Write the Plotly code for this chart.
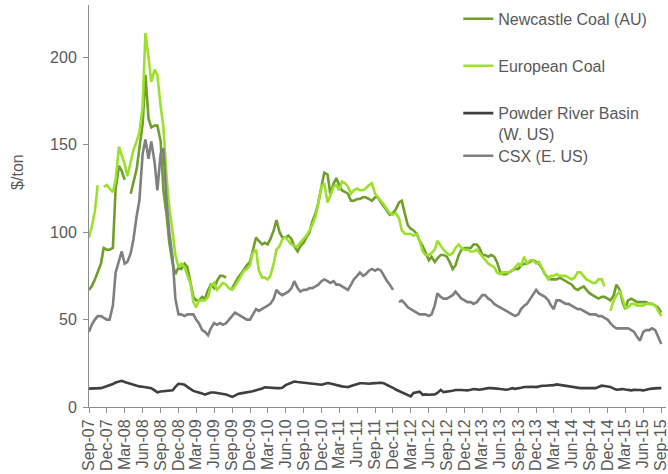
import pandas as pd
import plotly.graph_objects as go

# ---- data (semi-monthly readings, Sep-2007 .. Sep-2015) ----
dates = pd.date_range("2007-09-01", periods=193, freq="SMS")

newcastle = [67, 69, 73, 77, 82, 91, 90, 90, 91, 125, 138, 135, 130, None, 122, 128, 136, 148, 162, 190,
             165, 160, 161, 161, 152, 124, 110, 94, 82, 76, 80, 79, 82, 80, 70, 63, 61, 61, 63, 62,
             67, 70, 68, 72, 75, 75, 74, None, 68, 71, 74, 76, 79, 81, 83, 90, 97, 95, 93, 94,
             93, 96, 101, 107, 100, 97, 97, 98, 96, 92, 89, 92, 94, 97, 100, 106, 111, 117, 126, 134,
             133, 122, 128, 131, 127, 124, 123, 122, 118, 118, 119, 119, 120, 120, 119, 118, 120, 120, 117, 115,
             112, 110, 111, 113, 117, 118, 110, 104, 102, 101, 99, 95, 92, 88, 84, 86, 83, 85, 87, 87,
             86, 83, 79, 81, 87, 90, 91, 91, 91, 93, 93, 91, 87, 87, 86, 87, 86, 83, 77, 76,
             76, 77, 78, 79, 79, 81, 82, 82, 83, 84, 83, 82, 79, 76, 74, 73, 73, 73, 74, 73,
             72, 71, 70, 68, 67, 68, 69, 67, 65, 64, 63, 62, 63, 63, 62, 61, 64, 70, 67, 60,
             56, 61, 62, 61, 60, 60, 60, 60, 59, 59, 58, 57, 54]

european = [97, 103, 112, 127, None, 126, 127, 125, 123, 130, 149, 144, 139, 132, 140, 147, 152, 157, 172, 214,
            200, 186, 193, 190, 172, 160, 132, 114, 100, 87, 80, 82, 80, 76, 70, 60, 57, 61, 61, 61,
            63, 69, 71, 67, 69, 71, 70, 68, 67, 69, 72, 75, 78, 79, 81, 88, 90, 78, 74, 74,
            73, 75, 82, 90, 92, 96, 97, 95, 93, 92, 92, 94, 96, 98, 101, 104, 109, 118, 126, 128,
            117, 121, 126, 127, 124, 129, 128, 126, 122, 124, 125, 124, 124, 125, 127, 128, 122, 120, 118, 116,
            113, 111, 110, 111, 108, 101, 99, 99, 99, 98, 99, 95, 89, 87, 87, 88, 90, 95, 92, 90,
            88, 87, 88, 91, 93, 91, 90, 90, 89, 89, 90, 88, 86, 84, 82, 81, 80, 77, 76, 77,
            77, 77, 78, 80, 82, 81, 86, 82, 84, 84, 82, 83, 79, 76, 73, 75, 75, 76, 75, 75,
            75, 74, 73, 74, 77, 77, 75, 73, 72, 71, 71, 73, 73, 69, None, 55, 61, 64, 66, 62,
            57, 57, 59, 59, 58, 58, 58, 59, 59, 59, 58, 55, 52]

powder_river = [10.5, 10.5, 10.6, 10.7, 10.8, 11.3, 11.8, 12.4, 13.2, 14, 14.8, 15, 14.3, 13.8, 13.4, 12.5, 12, 11.8, 11.6, 11.4,
                11, 10.8, 9.5, 8.4, 8.9, 9, 9, 9.4, 9.6, 11.5, 13.3, 13.2, 12.7, 11.5, 10, 9.2, 8.7, 8.4, 7.8, 7.1,
                7.6, 8.3, 8.3, 8.1, 7.9, 7.6, 7.1, 6.5, 5.8, 6.5, 7.5, 7.8, 8.1, 8.3, 8.6, 9, 9.6, 9.9, 10.6, 11.3,
                11.1, 10.9, 10.8, 10.8, 10.8, 11, 12.5, 13.3, 14, 14.6, 14.3, 14.1, 13.9, 13.8, 13.5, 13.1, 12.7, 12.7, 12.7, 13.2,
                13.7, 13.4, 12.9, 12.5, 12, 11.8, 11.6, 11.4, 12, 12.6, 13.2, 13.6, 13.6, 13.4, 13.3, 13.5, 13.7, 14, 13.9, 13.6,
                12.8, 12, 11, 10, 9.1, 8.5, 7.8, 6.8, 6.1, 8, 8.5, 8.8, 7, 7.2, 7, 7, 7.2, 8, 9.8, 8.5,
                8.7, 9, 9.3, 9.7, 9.9, 9.7, 9.6, 9.5, 9.9, 10.3, 10.1, 9.9, 10.2, 10.6, 10.8, 10.8, 10.8, 10.5, 10.3, 10.1,
                9.9, 10.2, 10.8, 10.4, 10.5, 11, 11.4, 11.6, 11.8, 11.6, 11.4, 11.8, 12.2, 12.2, 12.2, 12.2, 12.5, 12.9, 12.6, 12.2,
                11.9, 11.5, 11.2, 11, 10.9, 10.8, 10.8, 10.8, 10.8, 10.8, 10.8, 11.4, 12.2, 12, 11.9, 11.5, 10.5, 9.9, 10.1, 10.3,
                10, 9.6, 9.5, 9.8, 9.9, 9.7, 9.5, 10, 10.3, 10.5, 10.8, 10.8, 10.8]

csx = [43, 47, 50, 52, 52, 51, 50, 50, 58, 77, 83, 89, 82, 83, 88, 96, 109, 118, 145, 153,
       142, 152, 140, 124, 145, 148, 118, 100, 85, 62, 53, 53, 52, 53, 53, 53, 50, 48, 44, 43,
       41, 45, 48, 47, 48, 47, 48, 50, 52, 54, 53, 52, 51, 50, 50, 53, 56, 55, 56, 57,
       58, 59, 62, 67, 65, 64, 65, 66, 68, 72, 68, 66, 67, 67, 68, 68, 69, 70, 72, 73,
       72, 71, 72, 70, 70, 69, 68, 67, 70, 73, 75, 77, 75, 76, 78, 79, 78, 79, 78, 75,
       72, 70, 67, None, 60, 61, 59, 57, 56, 55, 54, 53, 53, 53, 52, 53, 58, 65, 63, 62,
       62, 63, 64, 66, 64, 62, 61, 60, 60, 59, 60, 62, 64, 64, 62, 61, 59, 58, 57, 56,
       55, 54, 53, 52, 53, 56, 58, 59, 62, 64, 67, 65, 64, 63, 61, 58, 56, 61, 61, 60,
       59, 59, 58, 57, 56, 56, 55, 54, 53, 53, 53, 52, 52, 51, 50, 48, 46, 45, 45, 45,
       45, 45, 44, 43, 40, 38, 43, 44, 44, 45, 44, 40, 36]

names = ["Newcastle Coal (AU)", "European Coal", "Powder River Basin<br>(W. US)", "CSX (E. US)"]
colors = ["#6F9E2B", "#9BE02C", "#3F3F3F", "#7F7F7F"]
series = [newcastle, european, powder_river, csx]
legend_ids = ["legend", "legend2", "legend3", "legend4"]

TEXT = "#595959"
AXIS = "#8C8C8C"
FONT = "Liberation Sans, Arial, sans-serif"

fig = go.Figure()
for name, col, vals, lg in zip(names, colors, series, legend_ids):
    fig.add_trace(go.Scatter(x=dates, y=vals, mode="lines", name=name,
                             line=dict(color=col, width=2.6), connectgaps=False,
                             legend=lg, showlegend=True))

leg_common = dict(xanchor="left", yanchor="top", bgcolor="rgba(0,0,0,0)",
                  font=dict(size=16, color=TEXT, family=FONT), borderwidth=0,
                  valign="top", visible=True)
lx = 0.64
fig.update_layout(
    width=668, height=474,
    showlegend=True,
    margin=dict(l=89, r=2, t=5, b=67),
    paper_bgcolor="white", plot_bgcolor="white",
    font=dict(family=FONT, size=16, color=TEXT),
    legend=dict(x=lx, y=1.008, **leg_common),
    legend2=dict(x=lx, y=0.891, **leg_common),
    legend3=dict(x=lx, y=0.773, **leg_common),
    legend4=dict(x=lx, y=0.667, **leg_common),
    xaxis=dict(type="date", range=["2007-09-01", "2015-09-25"],
               tick0="2007-09-01", dtick="M3", tickformat="%b-%y", tickangle=-90,
               showgrid=False, zeroline=False, showline=True, linecolor=AXIS, linewidth=1,
               ticks="outside", ticklen=5, tickcolor=AXIS, automargin=False,
               ticklabeloverflow="allow",
               tickfont=dict(size=16, color=TEXT, family=FONT)),
    yaxis=dict(range=[0, 230], tick0=0, dtick=50,
               showgrid=False, zeroline=False, showline=True, linecolor=AXIS, linewidth=1,
               ticks="outside", ticklen=5, tickcolor=AXIS, ticklabelstandoff=3, automargin=False,
               tickfont=dict(size=16, color=TEXT, family=FONT)),
    annotations=[dict(text="$/ton", xref="paper", yref="paper",
                      x=(18 - 89) / 577, y=(407.3 - 172) / 402.3,
                      xanchor="center", yanchor="middle", textangle=-90, showarrow=False,
                      font=dict(size=16, color=TEXT, family=FONT))],
)

fig.write_html("out.html", config={"displayModeBar": False},
               post_script="document.body.style.margin='0';")
